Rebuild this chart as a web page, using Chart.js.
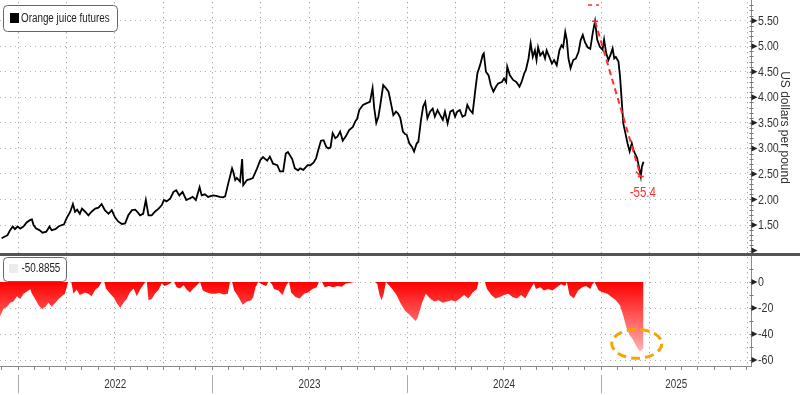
<!DOCTYPE html>
<html><head><meta charset="utf-8">
<script src="https://cdn.jsdelivr.net/npm/chart.js@4.4.1/dist/chart.umd.min.js"></script>
<style>html,body{margin:0;padding:0;background:#fff}#wrap{width:800px;height:395px;position:relative}</style>
</head><body><div id="wrap"><canvas id="c" width="800" height="395"></canvas></div>
<script>
// ---------- data ----------
const seriesName = 'Orange juice futures';
const yAxisTitle = 'US dollars per pound';
const yearLabels = [2022, 2023, 2024, 2025];
const priceTicks = [1.5, 2.0, 2.5, 3.0, 3.5, 4.0, 4.5, 5.0, 5.5];
const ddTicks = [0, -20, -40, -60];
// x values: days since 2022-01-01
const priceDays = [-31,-24,-20,-15,-10,-6,-1,4,10,16,23,26,29,34,40,46,53,59,63,70,76,82,86,91,98,103,107,111,116,120,126,132,138,145,151,157,163,170,176,182,188,195,201,207,214,220,224,229,235,240,245,251,257,264,270,274,279,286,292,297,303,309,316,322,328,334,341,345,351,357,366,372,379,385,389,395,402,404,408,411,417,421,423,430,436,441,449,455,460,468,473,479,487,492,498,503,507,515,520,526,530,536,544,549,555,560,564,569,574,579,583,587,591,596,600,605,610,616,622,629,633,637,641,648,654,661,666,669,673,677,681,686,691,696,700,705,710,714,718,723,727,730,735,740,744,749,752,757,761,765,769,774,779,783,788,793,798,802,807,812,817,821,825,830,835,840,844,849,854,859,863,868,873,875,879,884,888,893,898,902,909,913,917,919,924,930,936,942,946,951,954,959,963,967,971,974,977,981,986,990,993,998,1003,1007,1012,1017,1021,1024,1028,1031,1034,1038,1043,1048,1053,1057,1061,1065,1070,1075,1080,1084,1088,1093,1098,1101,1105,1109,1113,1117,1120,1123,1128,1131,1134,1137,1141,1145,1149,1153,1156,1159,1163,1167,1170,1172,1175];
const priceValues = [1.24,1.28,1.30,1.40,1.47,1.42,1.47,1.43,1.47,1.55,1.60,1.61,1.50,1.43,1.40,1.35,1.37,1.47,1.40,1.42,1.47,1.50,1.51,1.63,1.76,1.91,1.76,1.80,1.72,1.82,1.76,1.69,1.76,1.82,1.84,1.91,1.79,1.72,1.79,1.65,1.57,1.52,1.53,1.69,1.79,1.80,1.76,1.69,1.72,1.99,1.69,1.69,1.76,1.82,1.89,1.99,1.96,2.02,2.15,2.18,2.08,2.15,1.99,2.02,2.05,1.99,2.24,2.08,2.10,2.05,2.08,2.07,2.05,2.04,2.06,2.32,2.61,2.55,2.38,2.42,2.35,2.79,2.28,2.38,2.40,2.42,2.61,2.77,2.83,2.76,2.84,2.70,2.67,2.55,2.55,2.90,2.93,2.79,2.61,2.57,2.61,2.58,2.67,2.67,2.72,2.81,2.97,3.15,3.16,3.03,3.00,3.02,3.30,3.20,3.23,3.33,3.15,3.24,3.36,3.42,3.52,3.58,3.75,3.85,3.88,3.91,4.18,3.80,3.50,3.62,3.88,4.24,4.18,4.11,3.91,3.65,3.72,3.68,3.60,3.33,3.28,3.27,3.10,3.03,2.94,3.10,3.13,3.56,3.82,3.91,3.59,3.72,3.78,3.62,3.75,3.65,3.56,3.72,3.49,3.72,3.75,3.62,3.72,3.75,3.62,3.65,3.85,3.75,3.69,4.14,4.47,4.63,4.83,4.86,4.50,4.43,4.24,4.11,4.21,4.27,4.30,4.37,4.30,4.60,4.43,4.34,4.30,4.21,4.30,4.47,4.53,4.76,5.06,4.79,4.92,4.73,4.98,4.82,4.89,4.76,4.92,4.79,4.66,4.73,4.63,4.92,5.02,4.98,5.28,5.12,4.76,4.57,4.73,4.76,4.89,5.12,5.22,5.08,4.98,4.95,5.28,5.49,5.13,4.99,4.93,5.13,4.86,4.73,4.83,4.96,4.76,4.79,4.70,4.40,3.95,3.49,3.30,3.10,2.94,3.10,2.97,2.90,2.81,2.61,2.45,2.64,2.74];
const ddDays = [-34,-28,-21,-15,-9,-2,4,10,16,23,26,32,38,45,51,57,63,70,76,82,88,92,94,100,104,110,116,126,132,138,145,151,157,162,165,173,180,185,192,198,204,210,217,223,229,236,239,242,245,251,257,264,270,275,283,289,293,298,304,311,317,323,329,336,342,347,355,363,370,378,386,394,398,402,406,414,422,430,438,442,446,451,458,466,470,473,477,481,489,497,501,505,509,513,521,529,537,545,553,561,565,571,576,584,592,600,608,616,624,633,652,665,671,675,679,683,687,691,695,703,711,718,727,735,743,747,751,759,766,774,782,790,798,806,814,822,830,838,846,854,862,865,877,881,889,897,905,913,921,929,937,945,953,961,969,973,981,988,996,1004,1012,1020,1028,1031,1036,1044,1052,1060,1067,1075,1079,1083,1091,1099,1107,1115,1123,1131,1137,1143,1149,1155,1161,1168,1172,1175];
const ddValues = [-26.5,-21,-19,-16,-15,-11,-13,-9,-7.5,-5.6,-9,-13,-17.5,-21,-19,-16,-19,-16,-13,-11,-9,-3,0,0,-9,-6,-10,-8,-9,-11,-6,-4,0,0,-5,-9,-12,-16,-20,-16,-13,-8,-5,-11,-6,-1.7,0,0,-14,-13,-9,-6,-1,-3,-1.7,0,0,-4,-5,-2.5,-6,-8,-5,-2.5,0,-6.6,-8,-9,-9,-8.5,-9.5,-9,0,0,-6.6,-11.5,-17.5,-15,-14,-11.5,-4,0,-1.7,-3,0,0,-1.7,-5.4,-6.6,-10,-5.4,-1.7,0,-8,-11.5,-12.7,-9,-8,-5.4,-4,0,0,-4,-3,-4,-3,-3.7,-1.2,-0.5,0,0,0,0,-1.7,-10,-14,-9,0,-1.7,-5.4,-10,-16,-22,-25,-28.5,-30,-27,-16,-9,-12.7,-15,-14,-16,-15,-14,-15,-12.7,-10,-12.7,-8,-5.4,0,0,-5.4,-10,-12.7,-11.5,-10,-9,-11.5,-12.7,-10,-12.7,-6.6,-1,-5.4,-4,-6.6,-5.4,-6.6,-4,-1.7,-3,0,-10,-12.7,-6.6,-4,-3,-5.4,-1.7,0,-6.6,-8,-9,-11.5,-14,-18,-26,-35,-41,-44,-49,-53.5,-52,-50.8855];

// ---------- fonts ----------
function hasFont(name){const c=document.createElement('canvas').getContext('2d');c.font='20px monospace';const a=c.measureText('abcdefghijk lmnop 0123').width;c.font='20px "'+name+'", monospace';return Math.abs(c.measureText('abcdefghijk lmnop 0123').width-a)>0.5;}
const NARROW_NAME = ['Liberation Sans Narrow','Arial Narrow'].find(hasFont);
const REG = '"Liberation Sans", Arial, sans-serif';
// condensed text helper: uses a narrow face if installed, else horizontally squeezes the regular face
function ctext(ctx, str, x, y, size, align, color){
  ctx.save(); ctx.fillStyle=color; ctx.textBaseline='middle'; ctx.textAlign=align;
  if (NARROW_NAME){ ctx.font=size+'px "'+NARROW_NAME+'"'; ctx.fillText(str,x,y); }
  else { ctx.font=size+'px '+REG; ctx.translate(x,y); ctx.scale(0.82,1); ctx.fillText(str,0,0); }
  ctx.restore();
}

// ---------- helpers ----------
const BASE = Date.UTC(2022,0,1), DAY = 86400000;
const dayOf = (y,m) => (Date.UTC(y,m,1)-BASE)/DAY;
const XMIN = -34, XMAX = 1377;
const monthTicks = [];
for (let y=2021;y<=2025;y++) for (let m=0;m<12;m++){const d=dayOf(y,m); if(d>=XMIN&&d<=XMAX) monthTicks.push(d);}
const isQuarter = v => new Date(BASE+v*DAY).getUTCMonth()%3===0;
const noPad = s => { s.paddingTop=0; s.paddingBottom=0; s.paddingLeft=0; s.paddingRight=0; };
const gridDot = [1,4];
const gridCol = '#b4b4b4';

const overlay = {
  id:'overlay',
  beforeDatasetsDraw(chart){
    // vertical quarterly dotted grid lines across both panels (1px dots every 5px)
    const ctx=chart.ctx, sx=chart.scales.x, ca=chart.chartArea;
    ctx.save(); ctx.fillStyle='#a8a8a8';
    monthTicks.filter(isQuarter).forEach(d=>{
      const p=Math.round(sx.getPixelForValue(d));
      if(p<=ca.left||p>=ca.right-1) return;
      for(let yy=Math.ceil(ca.top)+2; yy<ca.bottom; yy+=5) ctx.fillRect(p,yy,1,1.3);
    });
    ctx.restore();
  },
  afterDraw(chart){
    const ctx=chart.ctx, sx=chart.scales.x, sy=chart.scales.y, sd=chart.scales.y2, ca=chart.chartArea;
    ctx.save();
    // separator between panels
    ctx.fillStyle='#555'; ctx.fillRect(0, Math.round(sy.bottom)-2, 800, 3);
    // y axis minor ticks & triangles & labels
    const ax = Math.round(ca.right)+0.5;
    ctx.strokeStyle='#777'; ctx.lineWidth=1;
    for (let v=1.0; v<=5.91; v+=0.1){const p=Math.round(sy.getPixelForValue(v))+0.5; if(p<sy.top+1||p>sy.bottom-3) continue; ctx.beginPath(); ctx.moveTo(ax-2,p); ctx.lineTo(ax+2,p); ctx.stroke();}
    for (let v=10; v>=-60; v-=10){const p=Math.round(sd.getPixelForValue(v))+0.5; if(p<sd.top+3) continue; ctx.beginPath(); ctx.moveTo(ax-2,p); ctx.lineTo(ax+2,p); ctx.stroke();}
    ctx.fillStyle='#222';
    const tri = p => {ctx.beginPath(); ctx.moveTo(ax,p-3); ctx.lineTo(ax+6,p); ctx.lineTo(ax,p+3); ctx.closePath(); ctx.fill();};
    priceTicks.forEach(v=>{const p=sy.getPixelForValue(v); tri(p); ctext(ctx, v.toFixed(2), ax+6.5, p+0.5, 13, 'left', '#333');});
    tri(sy.getPixelForValue(1.0));
    ddTicks.forEach(v=>{const p=sd.getPixelForValue(v); tri(p); ctext(ctx, String(v), ax+6.5, p+0.5, 13, 'left', '#333');});
    // year separators and labels
    ctx.strokeStyle='#aaa';
    yearLabels.forEach(y=>{
      const s=dayOf(y,0), e=dayOf(y+1,0);
      if (s>=XMIN){const p=Math.round(sx.getPixelForValue(s))+0.5; ctx.beginPath(); ctx.moveTo(p,375); ctx.lineTo(p,393); ctx.stroke();}
      const a=Math.max(s,XMIN), b=Math.min(e,XMAX);
      ctext(ctx, String(y), sx.getPixelForValue((a+b)/2), 385, 12, 'center', '#333');
    });
    // peak-to-trough annotation
    let pk=0; priceValues.forEach((v,i)=>{if(v>priceValues[pk]) pk=i;});
    let tr=pk; for(let i=pk;i<priceValues.length;i++) if(priceValues[i]<priceValues[tr]) tr=i;
    const x1=sx.getPixelForValue(priceDays[pk]), y1=sy.getPixelForValue(priceValues[pk]);
    const x2=sx.getPixelForValue(priceDays[tr]), y2=sy.getPixelForValue(priceValues[tr]);
    const red='#ff2e2e';
    ctx.strokeStyle=red; ctx.lineWidth=2; ctx.setLineDash([6,4]);
    ctx.beginPath(); ctx.moveTo(x1,y1); ctx.lineTo(x2,y2); ctx.stroke();
    ctx.setLineDash([]); ctx.lineWidth=1.5;
    ctx.beginPath(); ctx.moveTo(x1-3,y1); ctx.lineTo(x1+3,y1); ctx.moveTo(x2-3,y2); ctx.lineTo(x2+3,y2);
    ctx.moveTo(x2-5,y2-5); ctx.lineTo(x2,y2); ctx.stroke();
    ctx.beginPath(); ctx.moveTo(x1-7,5); ctx.lineTo(x1-3,5); ctx.moveTo(x1+1,5); ctx.lineTo(x1+4,5); ctx.stroke();
    const pct=((priceValues[tr]/priceValues[pk]-1)*100).toFixed(1);
    ctext(ctx, pct, x2+2, y2+17, 14, 'center', red);
    // orange dashed ellipse around the drawdown low
    let mn=0; ddValues.forEach((v,i)=>{if(v<ddValues[mn]) mn=i;});
    const ex=sx.getPixelForValue(ddDays[mn])-3, ey=sd.getPixelForValue(ddValues[mn]+6);
    ctx.strokeStyle='#f5a400'; ctx.lineWidth=3; ctx.setLineDash([9,5]);
    ctx.beginPath(); ctx.ellipse(ex,ey,25,14.5,0,0,Math.PI*2); ctx.stroke(); ctx.setLineDash([]);
    // legends
    const box=(x,y,w,h,r)=>{ctx.beginPath();ctx.moveTo(x+r,y);ctx.lineTo(x+w-r,y);ctx.arcTo(x+w,y,x+w,y+r,r);ctx.lineTo(x+w,y+h-r);ctx.arcTo(x+w,y+h,x+w-r,y+h,r);ctx.lineTo(x+r,y+h);ctx.arcTo(x,y+h,x,y+h-r,r);ctx.lineTo(x,y+r);ctx.arcTo(x,y,x+r,y,r);ctx.closePath();};
    ctx.lineWidth=1; ctx.strokeStyle='#666'; ctx.fillStyle='#fff';
    box(3.5,5.5,114,26,4); ctx.fill(); ctx.stroke();
    ctx.fillStyle='#000'; ctx.fillRect(10,13,9,10);
    ctext(ctx, seriesName, 21, 18.5, 12, 'left', '#222');
    ctx.strokeStyle='#666'; ctx.fillStyle='#fff';
    box(3.5,257.5,63,24,4); ctx.fill(); ctx.stroke();
    ctx.fillStyle='#ececec'; ctx.fillRect(9,264,9,9);
    ctext(ctx, ddValues[ddValues.length-1].toFixed(4), 21.5, 269, 12, 'left', '#222');
    ctx.restore();
  }
};

new Chart(document.getElementById('c'), {
  type:'line',
  data:{datasets:[
    {label:seriesName, yAxisID:'y', data:priceDays.map((d,i)=>({x:d,y:priceValues[i]})), borderColor:'#000', borderWidth:1.8, pointRadius:0, tension:0, fill:false},
    {label:'drawdown', yAxisID:'y2', data:ddDays.map((d,i)=>({x:d,y:ddValues[i]})), borderWidth:0, borderColor:'rgba(0,0,0,0)', pointRadius:0, tension:0, fill:'origin',
     backgroundColor:(c)=>{const ch=c.chart, s=ch.scales.y2; if(!s||!ch.chartArea) return '#ff3030'; const g=ch.ctx.createLinearGradient(0,s.getPixelForValue(0),0,s.getPixelForValue(-60)); g.addColorStop(0,'#ff0000'); g.addColorStop(1,'#ffc8c8'); return g;}}
  ]},
  options:{
    responsive:false, animation:false, devicePixelRatio:1,
    layout:{padding:0},
    plugins:{legend:{display:false}, tooltip:{enabled:false}},
    scales:{
      x:{type:'linear', position:'bottom', min:XMIN, max:XMAX,
        afterBuildTicks:s=>{s.ticks=monthTicks.map(v=>({value:v}));},
        afterFit:s=>{s.height=29; noPad(s);},
        ticks:{display:false, autoSkip:false},
        grid:{color:'rgba(0,0,0,0)', drawOnChartArea:false, lineWidth:1, drawTicks:true, tickLength:4, tickColor:'#8a8a8a', tickWidth:1},
        border:{display:true, color:'#8a8a8a', width:1}},
      y:{type:'linear', position:'right', stack:'s', stackWeight:255, min:0.913, max:5.905,
        afterBuildTicks:s=>{s.ticks=priceTicks.map(v=>({value:v}));},
        afterFit:s=>{s.width=49; noPad(s);},
        ticks:{display:false, autoSkip:false},
        grid:{color:gridCol, drawTicks:false, lineWidth:1},
        border:{display:true, color:'#8a8a8a', width:1, dash:gridDot},
        title:{display:true, text:yAxisTitle, font:{family:REG,size:12}, color:'#333', padding:{top:8,bottom:0}}},
      y2:{type:'linear', position:'right', stack:'s', stackWeight:111, min:-64.6, max:20.8,
        afterBuildTicks:s=>{s.ticks=ddTicks.map(v=>({value:v}));},
        afterFit:s=>{s.width=49; noPad(s);},
        ticks:{display:false, autoSkip:false},
        grid:{color:gridCol, drawTicks:false, lineWidth:1},
        border:{display:true, color:'#8a8a8a', width:1, dash:gridDot}}
    }
  },
  plugins:[overlay]
});
</script></body></html>
